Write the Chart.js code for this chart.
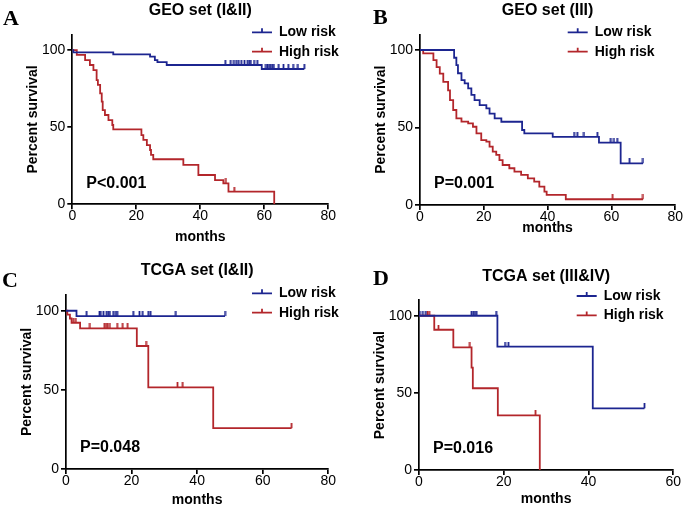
<!DOCTYPE html>
<html>
<head>
<meta charset="utf-8">
<script src="https://cdn.jsdelivr.net/npm/chart.js@4.4.1/dist/chart.umd.min.js"></script>
<style>
  html, body { margin: 0; padding: 0; background: #fff; }
  #wrap { position: relative; width: 685px; height: 508px; overflow: hidden; }
  canvas { position: absolute; }
</style>
</head>
<body>
<div id="wrap">
  <canvas id="chartA" width="342" height="254" style="left:0;top:0"></canvas>
  <canvas id="chartB" width="343" height="254" style="left:342px;top:0"></canvas>
  <canvas id="chartC" width="342" height="254" style="left:0;top:254px"></canvas>
  <canvas id="chartD" width="343" height="254" style="left:342px;top:254px"></canvas>
</div>
<script>
// Kaplan-Meier steps: event times (months) and survival (%) after each step, censor times

// A: GEO set (I&II)
const lowA_t = [0, 0.3, 12.8, 24.3, 25.8, 26.6, 29.5, 59.2, 72.5];
const lowA_s = [100, 98.5, 97.2, 95.7, 93.5, 92.2, 90.3, 87.7, 87.7];
const lowA_c = [47.8, 49.5, 50.5, 51.2, 52, 52.8, 53.8, 54.8, 55.3, 55.8, 56.8, 57.8, 60.5, 61, 61.5, 62, 62.5, 63, 64.5, 66, 67.5, 69, 70.5, 72.5];
const highA_t = [0, 1.4, 4.0, 5.5, 6.6, 7.6, 8.0, 8.7, 9.2, 9.5, 10.2, 11.3, 12.5, 12.8, 21.6, 22.2, 23.3, 24.3, 24.6, 25.3, 34.7, 39.4, 44.6, 47.2, 48.8, 63.1];
const highA_s = [100, 96.8, 93.5, 90.3, 87.0, 80.5, 77.4, 71.9, 66.5, 61.1, 57.9, 54.6, 51.4, 48.6, 44.9, 41.7, 38.4, 35.2, 32.0, 29.2, 25.5, 19.0, 15.7, 13.6, 8.2, 0];
const highA_c = [48.0, 50.6];

// B: GEO set (III)
const lowB_t = [0, 10.7, 11.4, 11.9, 13.0, 14.0, 15.1, 16.1, 17.1, 18.7, 20.8, 21.8, 23.4, 25.5, 32.0, 32.7, 41.6, 56.1, 62.9, 69.9];
const lowB_s = [100, 95, 90.3, 85, 80.6, 78.5, 75.3, 71, 67.7, 64.5, 62.4, 59, 55.9, 53.7, 48.4, 46.2, 44, 40.2, 26.9, 26.9];
const lowB_c = [48.3, 49.3, 51.4, 55.6, 59.8, 60.8, 61.8, 65.7, 69.9];
const highB_t = [0, 1.0, 4.2, 5.2, 6.2, 7.3, 8.8, 9.4, 10.4, 11.4, 13.0, 15.1, 16.6, 17.7, 19.2, 20.8, 21.8, 22.8, 23.9, 24.9, 25.9, 28.0, 29.6, 31.7, 33.8, 35.8, 37.4, 39.0, 39.7, 45.7, 69.9];
const highB_s = [100, 97.8, 93.5, 89, 84.8, 79.4, 74, 67.7, 61.3, 55.9, 53.8, 52.7, 50.5, 46.2, 41.9, 40.9, 37.6, 34.4, 32.3, 29, 25.8, 23.7, 21.5, 19.4, 17.2, 15.1, 11.8, 8.6, 6.5, 3.7, 3.7];
const highB_c = [60.4, 69.9];

// C: TCGA set (I&II)
const lowC_t = [0, 3.2, 48.5];
const lowC_s = [100, 96.6, 96.6];
const lowC_c = [6.3, 10.2, 10.6, 11.4, 12.4, 12.9, 13.4, 14.4, 15.2, 15.6, 20.5, 22.4, 23.4, 25.1, 25.8, 33.5, 48.5];
const highC_t = [0, 0.4, 1.2, 1.7, 4.3, 21.6, 25.1, 44.9, 68.8];
const highC_s = [100, 97.5, 95.1, 92.4, 88.9, 77.7, 51.6, 25.8, 25.8];
const highC_c = [2.2, 3.0, 7.3, 11.7, 12.2, 12.7, 13.4, 15.6, 17.3, 18.8, 24.4, 34.0, 35.6, 68.8];

// D: TCGA set (III&IV)
const lowD_t = [0, 18.5, 41.0, 53.2];
const lowD_s = [100, 80, 40, 40];
const lowD_c = [0.2, 0.9, 1.6, 12.4, 12.8, 13.2, 13.6, 18.2, 20.3, 21.1, 53.2];
const highD_t = [0, 3.6, 8.1, 12.4, 12.7, 18.6, 28.5];
const highD_s = [100, 90.9, 79.5, 66.3, 53.0, 35.4, 0];
const highD_c = [2.0, 2.4, 4.6, 12.0, 27.5];

const xTicks80 = [0, 20, 40, 60, 80];
const xTicks60 = [0, 20, 40, 60];
const yTicks = [0, 50, 100];

const BLUE = '#1c2590';
const RED = '#b3262b';
const FONT = '"Liberation Sans", Arial, sans-serif';

function steps(ts, ss) {
  return ts.map((t, i) => ({ x: t, y: ss[i] }));
}

// survival value of the curve at a censor time
function censored(ts, ss, cs) {
  return cs.map(c => {
    let s = ss[0];
    for (let i = 0; i < ts.length; i++) {
      if (ts[i] <= c) s = ss[i];
    }
    return { x: c, y: s };
  });
}

function tickImg(color) {
  const c = document.createElement('canvas');
  c.width = 3;
  c.height = 10;
  const g = c.getContext('2d');
  g.fillStyle = color;
  g.fillRect(0.6, 0, 1.8, 5);
  return c;
}

const panelText = {
  id: 'panelText',
  afterDraw(chart, args, o) {
    const ctx = chart.ctx;
    const a = chart.chartArea;
    const cx = (a.left + a.right) / 2;
    ctx.save();
    ctx.fillStyle = '#000';

    ctx.font = 'bold 22px "Liberation Serif", "Times New Roman", serif';
    ctx.textAlign = 'left';
    ctx.textBaseline = 'alphabetic';
    ctx.fillText(o.letter, o.letterX, o.letterY);

    ctx.font = 'bold 16px ' + FONT;
    ctx.textAlign = 'center';
    ctx.textBaseline = 'middle';
    ctx.fillText(o.title, cx, a.top - 24);

    ctx.textAlign = 'left';
    ctx.fillText(o.p, a.left + 14, a.bottom - 21);

    ctx.font = 'bold 14px ' + FONT;
    ctx.textAlign = 'center';
    ctx.fillText('months', cx, o.monthsY);
    ctx.save();
    ctx.translate(a.left - 39, (a.top + a.bottom) / 2);
    ctx.rotate(-Math.PI / 2);
    ctx.fillText('Percent survival', 0, 0);
    ctx.restore();

    // legend
    chart.data.datasets.filter(d => d.inLegend).forEach((d, i) => {
      const y = o.legendY + i * 19.4;
      ctx.strokeStyle = d.borderColor;
      ctx.lineWidth = 1.8;
      ctx.beginPath();
      ctx.moveTo(o.legendX, y);
      ctx.lineTo(o.legendX + 20, y);
      ctx.moveTo(o.legendX + 10, y);
      ctx.lineTo(o.legendX + 10, y - 4);
      ctx.stroke();
      ctx.fillStyle = '#000';
      ctx.textAlign = 'left';
      ctx.fillText(d.label, o.legendX + 27, y);
    });
    ctx.restore();
  }
};

function axis(ticks, max, fitKey, fitVal) {
  return {
    type: 'linear',
    min: 0,
    max: max,
    afterBuildTicks: s => { s.ticks = ticks.map(v => ({ value: v })); },
    afterFit: s => { s[fitKey] = fitVal; },
    ticks: {
      color: '#000',
      padding: 2,
      font: { family: FONT, size: 14, lineHeight: 0.7 }
    },
    grid: {
      display: true,
      drawOnChartArea: false,
      drawTicks: true,
      tickLength: 5,
      color: '#000',
      lineWidth: 1.7
    },
    border: { display: true, color: '#000', width: 1.7 }
  };
}

function makePanel(id, cfg) {
  const W = document.getElementById(id).width;
  const H = document.getElementById(id).height;
  const YW = 40, XH = 20;
  const ar = cfg.area;
  return new Chart(document.getElementById(id), {
    type: 'line',
    data: {
      datasets: [
        { label: 'Low risk', data: steps(cfg.low[0], cfg.low[1]), borderColor: BLUE, borderWidth: 1.8, stepped: true, pointRadius: 0, fill: false, inLegend: true },
        { label: 'High risk', data: steps(cfg.high[0], cfg.high[1]), borderColor: RED, borderWidth: 1.8, stepped: true, pointRadius: 0, fill: false, inLegend: true },
        { label: 'low cens', data: censored(cfg.low[0], cfg.low[1], cfg.low[2]), showLine: false, pointStyle: tickImg(BLUE), pointRadius: 3, borderColor: BLUE },
        { label: 'high cens', data: censored(cfg.high[0], cfg.high[1], cfg.high[2]), showLine: false, pointStyle: tickImg(RED), pointRadius: 3, borderColor: RED }
      ]
    },
    options: {
      responsive: false,
      animation: false,
      devicePixelRatio: 1,
      layout: {
        padding: { left: ar[0] - YW, top: ar[1], right: W - ar[2], bottom: H - ar[3] - XH }
      },
      plugins: {
        legend: { display: false },
        tooltip: { enabled: false },
        panelText: cfg.text
      },
      scales: {
        x: axis(cfg.xTicks, cfg.xMax, 'height', XH),
        y: axis(yTicks, 110, 'width', YW)
      }
    },
    plugins: [panelText]
  });
}

makePanel('chartA', {
  low: [lowA_t, lowA_s, lowA_c], high: [highA_t, highA_s, highA_c],
  xTicks: xTicks80, xMax: 80, area: [72.3, 34.6, 328.3, 204.3],
  text: { letter: 'A', letterX: 3, letterY: 25, title: 'GEO set (I&II)', p: 'P<0.001', monthsY: 237, legendX: 252, legendY: 32.3 }
});
makePanel('chartB', {
  low: [lowB_t, lowB_s, lowB_c], high: [highB_t, highB_s, highB_c],
  xTicks: xTicks80, xMax: 80, area: [78, 34.5, 334.7, 205],
  text: { letter: 'B', letterX: 31, letterY: 23.5, title: 'GEO set (III)', p: 'P=0.001', monthsY: 228, legendX: 225.7, legendY: 32.3 }
});
makePanel('chartC', {
  low: [lowC_t, lowC_s, lowC_c], high: [highC_t, highC_s, highC_c],
  xTicks: xTicks80, xMax: 80, area: [66, 40.9, 328.3, 215],
  text: { letter: 'C', letterX: 2, letterY: 33, title: 'TCGA set (I&II)', p: 'P=0.048', monthsY: 246, legendX: 252, legendY: 39.3 }
});
makePanel('chartD', {
  low: [lowD_t, lowD_s, lowD_c], high: [highD_t, highD_s, highD_c],
  xTicks: xTicks60, xMax: 60, area: [77, 46.3, 331.3, 216],
  text: { letter: 'D', letterX: 31, letterY: 31, title: 'TCGA set (III&IV)', p: 'P=0.016', monthsY: 245, legendX: 234.7, legendY: 42 }
});
</script>
</body>
</html>
